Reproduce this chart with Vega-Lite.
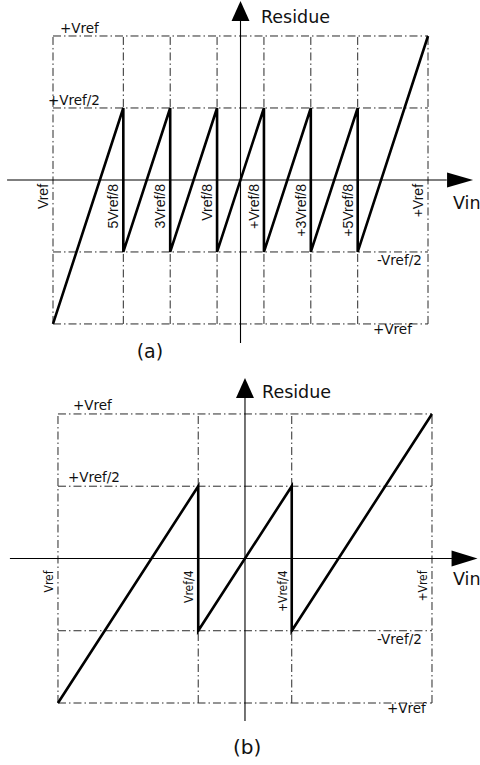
{
  "$schema": "https://vega.github.io/schema/vega-lite/v6.json",
  "background": "white",
  "padding": 0,
  "spacing": 0,
  "bounds": "flush",
  "config": {"view": {"stroke": null}, "concat": {"spacing": 0}},
  "resolve": {"scale": {"x": "independent", "y": "independent", "shape": "independent"}},
  "datasets": {
    "gridA": [
      {"x": -1, "x2": 1, "y": 1, "y2": 1},
      {"x": -1, "x2": 1, "y": 0.5, "y2": 0.5},
      {"x": -1, "x2": 1, "y": -0.5, "y2": -0.5},
      {"x": -1, "x2": 1, "y": -1, "y2": -1},
      {"x": -1, "x2": -1, "y": -1, "y2": 1},
      {"x": -0.625, "x2": -0.625, "y": -1, "y2": 1},
      {"x": -0.375, "x2": -0.375, "y": -1, "y2": 1},
      {"x": -0.125, "x2": -0.125, "y": -1, "y2": 1},
      {"x": 0.125, "x2": 0.125, "y": -1, "y2": 1},
      {"x": 0.375, "x2": 0.375, "y": -1, "y2": 1},
      {"x": 0.625, "x2": 0.625, "y": -1, "y2": 1},
      {"x": 1, "x2": 1, "y": -1, "y2": 1}
    ],
    "axesA": [
      {"x": -1.245, "x2": 1.1, "y": 0, "y2": 0},
      {"x": 0, "x2": 0, "y": -1.132, "y2": 1.11}
    ],
    "arrowsA": [
      {"x": 0, "y": 1.174, "dir": "up"},
      {"x": 1.171, "y": 0, "dir": "right"}
    ],
    "sawA": [
      {"i": 0, "x": -1, "y": -1},
      {"i": 1, "x": -0.625, "y": 0.5},
      {"i": 2, "x": -0.625, "y": -0.5},
      {"i": 3, "x": -0.375, "y": 0.5},
      {"i": 4, "x": -0.375, "y": -0.5},
      {"i": 5, "x": -0.125, "y": 0.5},
      {"i": 6, "x": -0.125, "y": -0.5},
      {"i": 7, "x": 0.125, "y": 0.5},
      {"i": 8, "x": 0.125, "y": -0.5},
      {"i": 9, "x": 0.375, "y": 0.5},
      {"i": 10, "x": 0.375, "y": -0.5},
      {"i": 11, "x": 0.625, "y": 0.5},
      {"i": 12, "x": 0.625, "y": -0.5},
      {"i": 13, "x": 1, "y": 1}
    ],
    "labelsA": [
      {"text": "Residue", "x": 0.109, "y": 1.09, "kind": "big"},
      {"text": "Vin", "x": 1.133, "y": -0.201, "kind": "big"},
      {"text": "+Vref", "x": -0.963, "y": 1.021, "kind": "small"},
      {"text": "+Vref/2", "x": -1.027, "y": 0.521, "kind": "small"},
      {"text": "-Vref/2", "x": 0.728, "y": -0.59, "kind": "small"},
      {"text": "+Vref", "x": 0.707, "y": -1.069, "kind": "small"},
      {"text": "(a)", "x": -0.483, "y": -1.236, "kind": "cap"},
      {"text": "Vref", "x": -1, "y": 0, "kind": "tick"},
      {"text": "5Vref/8", "x": -0.625, "y": 0, "kind": "tick"},
      {"text": "3Vref/8", "x": -0.375, "y": 0, "kind": "tick"},
      {"text": "Vref/8", "x": -0.125, "y": 0, "kind": "tick"},
      {"text": "+Vref/8", "x": 0.125, "y": 0, "kind": "tick"},
      {"text": "+3Vref/8", "x": 0.375, "y": 0, "kind": "tick"},
      {"text": "+5Vref/8", "x": 0.625, "y": 0, "kind": "tick"},
      {"text": "+Vref", "x": 1, "y": 0, "kind": "tick"}
    ],
    "gridB": [
      {"x": -1, "x2": 1, "y": 1, "y2": 1},
      {"x": -1, "x2": 1, "y": 0.5, "y2": 0.5},
      {"x": -1, "x2": 1, "y": -0.5, "y2": -0.5},
      {"x": -1, "x2": 1, "y": -1, "y2": -1},
      {"x": -1, "x2": -1, "y": -1, "y2": 1},
      {"x": -0.25, "x2": -0.25, "y": -1, "y2": 1},
      {"x": 0.25, "x2": 0.25, "y": -1, "y2": 1},
      {"x": 1, "x2": 1, "y": -1, "y2": 1}
    ],
    "axesB": [
      {"x": -1.257, "x2": 1.107, "y": 0, "y2": 0},
      {"x": 0, "x2": 0, "y": -1.125, "y2": 1.111}
    ],
    "arrowsB": [
      {"x": 0, "y": 1.18, "dir": "up"},
      {"x": 1.174, "y": 0, "dir": "right"}
    ],
    "sawB": [
      {"i": 0, "x": -1, "y": -1},
      {"i": 1, "x": -0.25, "y": 0.5},
      {"i": 2, "x": -0.25, "y": -0.5},
      {"i": 3, "x": 0.25, "y": 0.5},
      {"i": 4, "x": 0.25, "y": -0.5},
      {"i": 5, "x": 1, "y": 1}
    ],
    "labelsB": [
      {"text": "Residue", "x": 0.091, "y": 1.111, "kind": "big"},
      {"text": "Vin", "x": 1.112, "y": -0.183, "kind": "big"},
      {"text": "+Vref", "x": -0.92, "y": 1.028, "kind": "small"},
      {"text": "+Vref/2", "x": -0.947, "y": 0.529, "kind": "small"},
      {"text": "-Vref/2", "x": 0.706, "y": -0.592, "kind": "small"},
      {"text": "+Vref", "x": 0.759, "y": -1.069, "kind": "small"},
      {"text": "(b)", "x": 0.011, "y": -1.353, "kind": "cap"},
      {"text": "Vref", "x": -1, "y": 0, "kind": "tick"},
      {"text": "Vref/4", "x": -0.25, "y": 0, "kind": "tick"},
      {"text": "+Vref/4", "x": 0.25, "y": 0, "kind": "tick"},
      {"text": "+Vref", "x": 1, "y": 0, "kind": "tick"}
    ]
  },
  "vconcat": [
    {
      "width": 480,
      "height": 368,
      "encoding": {
        "x": {"field": "x", "type": "quantitative", "axis": null, "scale": {"domain": [-1.2827, 1.2773], "nice": false, "zero": false}},
        "y": {"field": "y", "type": "quantitative", "axis": null, "scale": {"domain": [-1.306, 1.25], "nice": false, "zero": false}}
      },
      "layer": [
        {
          "data": {"name": "gridA"},
          "mark": {"type": "rule", "color": "#2a2a2a", "strokeWidth": 1, "strokeDash": [8, 3, 1.5, 3]},
          "encoding": {"x2": {"field": "x2"}, "y2": {"field": "y2"}}
        },
        {
          "data": {"name": "axesA"},
          "mark": {"type": "rule", "color": "#000", "strokeWidth": 1.1},
          "encoding": {"x2": {"field": "x2"}, "y2": {"field": "y2"}}
        },
        {
          "data": {"name": "sawA"},
          "mark": {"type": "line", "color": "#000", "strokeWidth": 2.6},
          "encoding": {"order": {"field": "i", "type": "quantitative"}}
        },
        {
          "data": {"name": "arrowsA"},
          "mark": {"type": "point", "filled": true, "size": 676, "color": "#000", "opacity": 1},
          "encoding": {
            "shape": {"field": "dir", "type": "nominal", "legend": null,
              "scale": {"domain": ["up", "right"], "range": ["M0,-0.77L0.69,0.77L-0.69,0.77Z", "M1,0L-1,-0.58L-1,0.58Z"]}}
          }
        },
        {
          "data": {"name": "labelsA"},
          "transform": [{"filter": "datum.kind === 'big'"}],
          "mark": {"type": "text", "font": "DejaVu Sans", "fontSize": 17.5, "align": "left", "baseline": "alphabetic", "color": "#111", "clip": true},
          "encoding": {"text": {"field": "text"}}
        },
        {
          "data": {"name": "labelsA"},
          "transform": [{"filter": "datum.kind === 'small'"}],
          "mark": {"type": "text", "font": "DejaVu Sans", "fontSize": 13.5, "align": "left", "baseline": "alphabetic", "color": "#111"},
          "encoding": {"text": {"field": "text"}}
        },
        {
          "data": {"name": "labelsA"},
          "transform": [{"filter": "datum.kind === 'cap'"}],
          "mark": {"type": "text", "font": "DejaVu Sans", "fontSize": 19, "align": "center", "baseline": "alphabetic", "color": "#111"},
          "encoding": {"text": {"field": "text"}}
        },
        {
          "data": {"name": "labelsA"},
          "transform": [{"filter": "datum.kind === 'tick'"}],
          "mark": {"type": "text", "font": "Liberation Sans", "fontSize": 14, "angle": 270, "align": "right", "baseline": "alphabetic", "dx": -4, "dy": -5, "color": "#111"},
          "encoding": {"text": {"field": "text"}}
        }
      ]
    },
    {
      "width": 480,
      "height": 397,
      "encoding": {
        "x": {"field": "x", "type": "quantitative", "axis": null, "scale": {"domain": [-1.31, 1.2567], "nice": false, "zero": false}},
        "y": {"field": "y", "type": "quantitative", "axis": null, "scale": {"domain": [-1.429, 1.318], "nice": false, "zero": false}}
      },
      "layer": [
        {
          "data": {"name": "gridB"},
          "mark": {"type": "rule", "color": "#2a2a2a", "strokeWidth": 1, "strokeDash": [8, 3, 1.5, 3]},
          "encoding": {"x2": {"field": "x2"}, "y2": {"field": "y2"}}
        },
        {
          "data": {"name": "axesB"},
          "mark": {"type": "rule", "color": "#000", "strokeWidth": 1.1},
          "encoding": {"x2": {"field": "x2"}, "y2": {"field": "y2"}}
        },
        {
          "data": {"name": "sawB"},
          "mark": {"type": "line", "color": "#000", "strokeWidth": 2.6},
          "encoding": {"order": {"field": "i", "type": "quantitative"}}
        },
        {
          "data": {"name": "arrowsB"},
          "mark": {"type": "point", "filled": true, "size": 676, "color": "#000", "opacity": 1},
          "encoding": {
            "shape": {"field": "dir", "type": "nominal", "legend": null,
              "scale": {"domain": ["up", "right"], "range": ["M0,-0.77L0.69,0.77L-0.69,0.77Z", "M1,0L-1,-0.62L-1,0.62Z"]}}
          }
        },
        {
          "data": {"name": "labelsB"},
          "transform": [{"filter": "datum.kind === 'big'"}],
          "mark": {"type": "text", "font": "DejaVu Sans", "fontSize": 17.5, "align": "left", "baseline": "alphabetic", "color": "#111", "clip": true},
          "encoding": {"text": {"field": "text"}}
        },
        {
          "data": {"name": "labelsB"},
          "transform": [{"filter": "datum.kind === 'small'"}],
          "mark": {"type": "text", "font": "DejaVu Sans", "fontSize": 13.5, "align": "left", "baseline": "alphabetic", "color": "#111"},
          "encoding": {"text": {"field": "text"}}
        },
        {
          "data": {"name": "labelsB"},
          "transform": [{"filter": "datum.kind === 'cap'"}],
          "mark": {"type": "text", "font": "DejaVu Sans", "fontSize": 20, "align": "center", "baseline": "alphabetic", "color": "#111"},
          "encoding": {"text": {"field": "text"}}
        },
        {
          "data": {"name": "labelsB"},
          "transform": [{"filter": "datum.kind === 'tick'"}],
          "mark": {"type": "text", "font": "Liberation Sans Narrow, DejaVu Sans Condensed, Liberation Sans", "fontSize": 12, "angle": 270, "align": "right", "baseline": "alphabetic", "dx": -12, "dy": -5, "color": "#111"},
          "encoding": {"text": {"field": "text"}}
        }
      ]
    }
  ]
}
